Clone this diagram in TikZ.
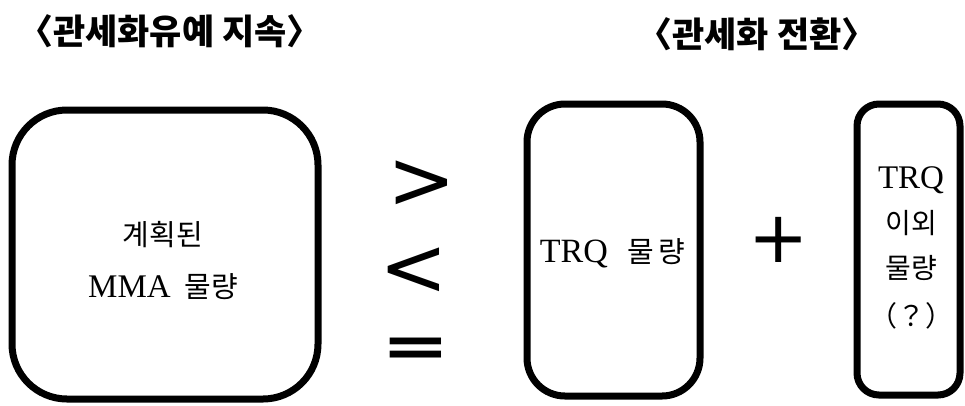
\documentclass[tikz,border=0pt]{standalone}
\usepackage{fontspec}
\setmainfont{Liberation Serif}
\newfontfamily\kr{Noto Sans CJK KR}
\newfontfamily\symfont{DejaVu Sans}
\newcommand\Kb[1]{{\kr\fontsize{29}{52}\selectfont #1}}
\newcommand\Kc[1]{{\kr\fontsize{28}{45}\selectfont #1}}
\begin{document}
\begin{tikzpicture}[x=1pt,y=-1pt,
  qbox/.style={draw=black,line width=7pt,inner sep=0pt},
  boxtext/.style={inner sep=0pt,align=center},
  title/.style={font=\kr\bfseries\fontsize{35}{42}\selectfont,inner sep=0pt},
  relsym/.style={font=\symfont\fontsize{82}{90}\selectfont,inner sep=0pt,anchor=base}]
\useasboundingbox (0,0) rectangle (965,405);
% titles
\node[title] (t1) at (170,31) {〈관세화유예 지속〉};
\node[title] (t2) at (757,34) {〈관세화 전환〉};
% boxes
\node[qbox,rounded corners=55pt,minimum width=306pt,minimum height=289pt] (mma) at (165,254.5) {};
\node[qbox,rounded corners=38pt,minimum width=173pt,minimum height=292pt] (trq) at (613.5,250) {};
\node[qbox,rounded corners=22pt,minimum width=103pt,minimum height=291pt] (other) at (908.5,249.5) {};
% box texts
\node[boxtext,font=\fontsize{33}{52}\selectfont] (mmatext) at (163,261) {\Kb{계획된}\\MMA\, \Kb{물량}};
\node[boxtext,font=\fontsize{34}{40}\selectfont] (trqtext) at (612.5,253) {TRQ\,\, \Kb{물\hspace{4pt}량}};
\node[boxtext,font=\fontsize{33}{45}\selectfont] (othertext) at (911,248) {TRQ\\\Kc{이외}\\\Kc{물량}\\[3pt]\Kc{（？）}};
% relation symbols
\node[relsym] (gt) at (422,208) {>};
\node[relsym] (lt) at (414,295) {<};
\node[relsym,font=\symfont\bfseries\fontsize{82}{90}\selectfont] (eq) at (416,366) {\scalebox{1}[0.72]{=}};
\node[relsym,font=\symfont\fontsize{72}{80}\selectfont,anchor=center] (plus) at (779,240) {+};
\end{tikzpicture}
\end{document}
